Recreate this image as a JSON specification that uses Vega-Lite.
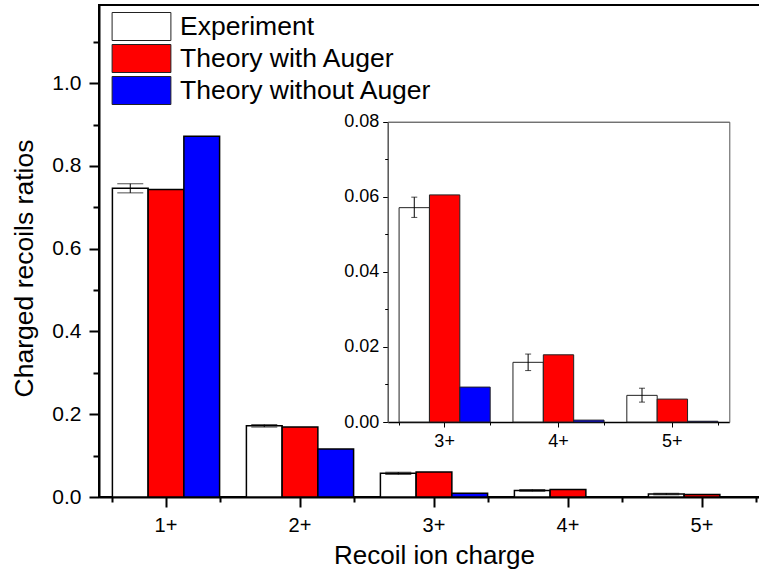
{
  "$schema": "https://vega.github.io/schema/vega-lite/v6.json",
  "autosize": {"type": "none"},
  "padding": {"left": 99, "top": 5, "right": 0, "bottom": 73},
  "width": 670,
  "height": 492,
  "config": {
    "font": "Liberation Sans",
    "view": {"stroke": "black", "strokeWidth": 2},
    "axis": {"grid": false, "labelColor": "black", "titleColor": "black", "tickColor": "black", "domainColor": "black", "titleFontWeight": "normal", "labelFont": "Liberation Sans", "titleFont": "Liberation Sans"}
  },
  "datasets": {
    "bars": [
      {"charge": "1+", "series": "Experiment", "value": 0.746},
      {"charge": "1+", "series": "Theory with Auger", "value": 0.743},
      {"charge": "1+", "series": "Theory without Auger", "value": 0.872},
      {"charge": "2+", "series": "Experiment", "value": 0.172},
      {"charge": "2+", "series": "Theory with Auger", "value": 0.169},
      {"charge": "2+", "series": "Theory without Auger", "value": 0.116},
      {"charge": "3+", "series": "Experiment", "value": 0.0571},
      {"charge": "3+", "series": "Theory with Auger", "value": 0.0605},
      {"charge": "3+", "series": "Theory without Auger", "value": 0.0093},
      {"charge": "4+", "series": "Experiment", "value": 0.0159},
      {"charge": "4+", "series": "Theory with Auger", "value": 0.0179},
      {"charge": "4+", "series": "Theory without Auger", "value": 0.0005},
      {"charge": "5+", "series": "Experiment", "value": 0.0071},
      {"charge": "5+", "series": "Theory with Auger", "value": 0.0061},
      {"charge": "5+", "series": "Theory without Auger", "value": 0.0002}
    ],
    "err": [
      {"charge": "1+", "series": "Experiment", "lo": 0.735, "hi": 0.757},
      {"charge": "2+", "series": "Experiment", "lo": 0.169, "hi": 0.175},
      {"charge": "3+", "series": "Experiment", "lo": 0.0545, "hi": 0.0599},
      {"charge": "4+", "series": "Experiment", "lo": 0.0137, "hi": 0.0181},
      {"charge": "5+", "series": "Experiment", "lo": 0.0053, "hi": 0.009}
    ]
  },
  "resolve": {
    "scale": {"x": "independent", "y": "independent", "xOffset": "independent"},
    "axis": {"x": "independent", "y": "independent"}
  },
  "layer": [
    {
      "data": {"name": "bars"},
      "mark": {"type": "bar", "stroke": "black", "strokeWidth": 1.5},
      "encoding": {
        "x": {"field": "charge", "type": "nominal",
          "scale": {"domain": ["1+", "2+", "3+", "4+", "5+"], "paddingInner": 0.2, "paddingOuter": 0.1},
          "axis": {"orient": "bottom", "title": "Recoil ion charge", "labelAngle": 0, "tickSize": 10, "tickWidth": 2, "domainWidth": 2, "labelFontSize": 20, "labelPadding": 8, "titleFontSize": 26, "titlePadding": 7}},
        "xOffset": {"field": "series", "type": "nominal",
          "scale": {"domain": ["Experiment", "Theory with Auger", "Theory without Auger"], "paddingInner": 0, "paddingOuter": 0}},
        "y": {"field": "value", "type": "quantitative",
          "scale": {"domain": [0, 1.189], "nice": false},
          "axis": {"orient": "left", "values": [0, 0.2, 0.4, 0.6, 0.8, 1.0], "format": ".1f", "tickSize": 10, "tickWidth": 2, "domainWidth": 2, "labelFontSize": 21, "labelPadding": 8, "title": "Charged recoils ratios", "titleFontSize": 26.5, "titlePadding": 13, "titleY": 263}},
        "color": {"field": "series", "type": "nominal",
          "scale": {"domain": ["Experiment", "Theory with Auger", "Theory without Auger"], "range": ["#ffffff", "#ff0000", "#0000ff"]},
          "legend": {"orient": "none", "legendX": 28, "legendY": 7, "title": null, "symbolType": "M-2.1,-1H2.1V1H-2.1Z", "symbolSize": 784, "symbolStrokeColor": "black", "symbolStrokeWidth": 1, "symbolOpacity": 1, "labelFont": "Liberation Sans", "labelFontSize": 26.5, "labelColor": "black", "labelOffset": 24, "rowPadding": -1, "padding": 0, "labelLimit": 400}}
      }
    },
    {
      "data": {"name": "err"},
      "mark": {"type": "rule", "color": "black", "strokeWidth": 1},
      "encoding": {
        "x": {"field": "charge", "type": "nominal",
          "scale": {"domain": ["1+", "2+", "3+", "4+", "5+"], "paddingInner": 0.2, "paddingOuter": 0.1},
          "axis": {"orient": "bottom", "title": null, "tickBand": "extent", "tickSize": 5, "tickWidth": 2, "labels": false, "domain": false}},
        "xOffset": {"field": "series", "type": "nominal",
          "scale": {"domain": ["Experiment", "Theory with Auger", "Theory without Auger"], "paddingInner": 0, "paddingOuter": 0}},
        "y": {"field": "lo", "type": "quantitative",
          "scale": {"domain": [0, 1.189], "nice": false},
          "axis": {"orient": "left", "title": null, "values": [0.1, 0.3, 0.5, 0.7, 0.9, 1.1], "tickSize": 6, "tickWidth": 2, "labels": false, "domain": false}},
        "y2": {"field": "hi"}
      }
    },
    {
      "data": {"name": "err"},
      "transform": [{"fold": ["lo", "hi"], "as": ["bound", "v"]}],
      "mark": {"type": "tick", "color": "black", "size": 26, "thickness": 1},
      "encoding": {
        "x": {"field": "charge", "type": "nominal",
          "scale": {"domain": ["1+", "2+", "3+", "4+", "5+"], "paddingInner": 0.2, "paddingOuter": 0.1}, "axis": null},
        "xOffset": {"field": "series", "type": "nominal",
          "scale": {"domain": ["Experiment", "Theory with Auger", "Theory without Auger"], "paddingInner": 0, "paddingOuter": 0}},
        "y": {"field": "v", "type": "quantitative",
          "scale": {"domain": [0, 1.189], "nice": false}, "axis": null}
      }
    },
    {
      "data": {"name": "bars"},
      "transform": [{"filter": {"field": "charge", "oneOf": ["3+", "4+", "5+"]}}],
      "mark": {"type": "bar", "stroke": "#222222", "strokeWidth": 1},
      "encoding": {
        "x": {"field": "charge", "type": "nominal",
          "scale": {"domain": ["3+", "4+", "5+"], "range": [288.7, 630.3], "paddingInner": 0.2, "paddingOuter": 0.1},
          "axis": {"orient": "bottom", "offset": -75, "title": null, "labelAngle": 0, "tickSize": 5, "tickWidth": 1, "domainWidth": 1.5, "labelFont": "Liberation Sans Narrow, Liberation Sans", "labelFontSize": 18, "labelPadding": 5}},
        "xOffset": {"field": "series", "type": "nominal",
          "scale": {"domain": ["Experiment", "Theory with Auger", "Theory without Auger"], "paddingInner": 0, "paddingOuter": 0}},
        "y": {"field": "value", "type": "quantitative",
          "scale": {"domain": [0, 0.08], "range": [417, 116.7], "nice": false},
          "axis": {"orient": "left", "offset": -288.7, "title": null, "values": [0, 0.02, 0.04, 0.06, 0.08], "format": ".2f", "tickSize": 5, "tickWidth": 1, "domainColor": "#555555", "domainWidth": 1.5, "labelFont": "Liberation Sans Narrow, Liberation Sans", "labelFontSize": 18, "labelPadding": 4}},
        "color": {"field": "series", "type": "nominal",
          "scale": {"domain": ["Experiment", "Theory with Auger", "Theory without Auger"], "range": ["#ffffff", "#ff0000", "#0000ff"]}}
      }
    },
    {
      "data": {"name": "err"},
      "transform": [{"filter": {"field": "charge", "oneOf": ["3+", "4+", "5+"]}}],
      "mark": {"type": "rule", "color": "black", "strokeWidth": 1},
      "encoding": {
        "x": {"field": "charge", "type": "nominal",
          "scale": {"domain": ["3+", "4+", "5+"], "range": [288.7, 630.3], "paddingInner": 0.2, "paddingOuter": 0.1},
          "axis": {"orient": "bottom", "offset": -75, "title": null, "tickBand": "extent", "tickSize": 3, "tickWidth": 1, "labels": false, "domain": false}},
        "xOffset": {"field": "series", "type": "nominal",
          "scale": {"domain": ["Experiment", "Theory with Auger", "Theory without Auger"], "paddingInner": 0, "paddingOuter": 0}},
        "y": {"field": "lo", "type": "quantitative",
          "scale": {"domain": [0, 0.08], "range": [417, 116.7], "nice": false},
          "axis": {"orient": "left", "offset": -288.7, "title": null, "values": [0.01, 0.03, 0.05, 0.07], "tickSize": 3, "tickWidth": 1, "labels": false, "domain": false}},
        "y2": {"field": "hi"}
      }
    },
    {
      "data": {"name": "err"},
      "transform": [{"filter": {"field": "charge", "oneOf": ["3+", "4+", "5+"]}}, {"fold": ["lo", "hi"], "as": ["bound", "v"]}],
      "mark": {"type": "tick", "color": "black", "size": 6, "thickness": 1},
      "encoding": {
        "x": {"field": "charge", "type": "nominal",
          "scale": {"domain": ["3+", "4+", "5+"], "range": [288.7, 630.3], "paddingInner": 0.2, "paddingOuter": 0.1},
          "axis": {"orient": "top", "offset": -116.7, "title": null, "ticks": false, "labels": false, "domain": true, "domainColor": "#333333", "domainWidth": 1}},
        "xOffset": {"field": "series", "type": "nominal",
          "scale": {"domain": ["Experiment", "Theory with Auger", "Theory without Auger"], "paddingInner": 0, "paddingOuter": 0}},
        "y": {"field": "v", "type": "quantitative",
          "scale": {"domain": [0, 0.08], "range": [417, 116.7], "nice": false},
          "axis": {"orient": "right", "offset": -39.7, "title": null, "ticks": false, "labels": false, "domain": true, "domainColor": "#555555", "domainWidth": 1}}
      }
    }
  ]
}
